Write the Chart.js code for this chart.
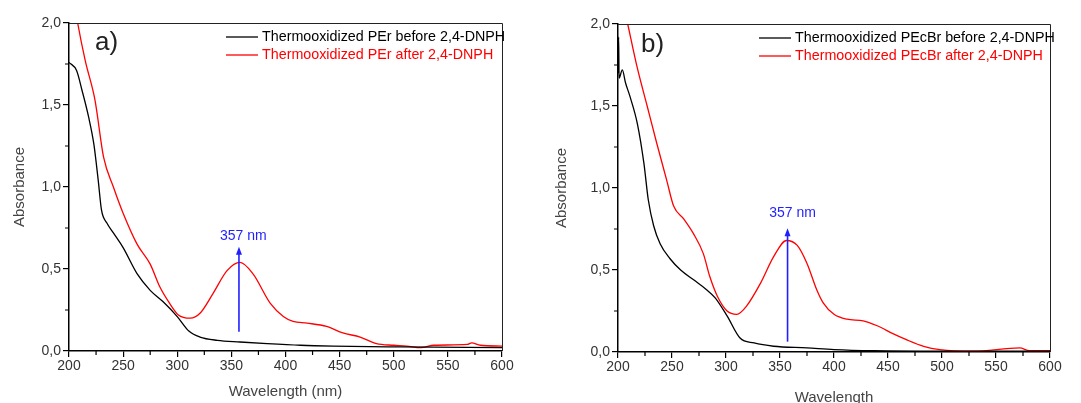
<!DOCTYPE html>
<html lang="en">

<head>
    <meta charset="UTF-8" />
    <script src="https://cdn.jsdelivr.net/npm/chart.js@4.4.1/dist/chart.umd.min.js"></script>
    <title>UV-Vis spectra</title>
    <style>
        body { margin: 0; background: #fff; width: 1081px; height: 403px; overflow: hidden; position: relative; }
        canvas { position: absolute; top: 0; }
        #chartA { left: 0; }
        #chartB { left: 540px; }
    </style>
</head>

<body>
    <canvas id="chartA" width="540" height="403"></canvas>
    <canvas id="chartB" width="541" height="409"></canvas>
    <script>
        // panel a) PEr
        const waveA_before = [200, 207, 212, 218, 223, 227, 230, 235, 241, 250, 263, 275, 287, 300, 311, 321, 337, 358, 383, 414, 444, 506, 600]
        const absA_before = [1.76, 1.71, 1.59, 1.43, 1.26, 1.04, 0.86, 0.78, 0.72, 0.63, 0.47, 0.37, 0.30, 0.21, 0.12, 0.085, 0.065, 0.055, 0.045, 0.035, 0.03, 0.025, 0.02]
        const waveA_after = [206, 208, 215, 224, 232, 241, 250, 263, 275, 284, 293, 301, 312, 321, 333, 346, 358, 370, 386, 398, 407, 420, 438, 453, 469, 484, 500, 512, 525, 537, 568, 572, 580, 600]
        const absA_after = [2.08, 2.0, 1.77, 1.53, 1.18, 1.0, 0.84, 0.65, 0.53, 0.39, 0.29, 0.22, 0.20, 0.23, 0.35, 0.49, 0.54, 0.47, 0.29, 0.21, 0.18, 0.17, 0.15, 0.11, 0.085, 0.045, 0.035, 0.03, 0.02, 0.035, 0.04, 0.05, 0.035, 0.03]

        // panel b) PEcBr
        const waveB_before = [200, 200.6, 201, 204, 207, 211, 218, 224, 228, 233, 239, 248, 258, 270, 282, 290, 301, 313, 326, 344, 375, 400, 437, 498, 600]
        const absB_before = [1.70, 1.92, 1.67, 1.72, 1.64, 1.56, 1.39, 1.15, 0.93, 0.77, 0.66, 0.57, 0.50, 0.44, 0.38, 0.33, 0.22, 0.085, 0.055, 0.035, 0.025, 0.015, 0.008, 0.005, 0.005]
        const waveB_after = [207, 209, 217.6, 227, 236, 245, 251.5, 261, 270, 279, 285, 292, 301, 310, 319, 332, 344, 356, 366, 375, 384, 390, 400, 412, 427, 440, 455, 467, 483, 498, 529, 572, 581, 600]
        const absB_after = [2.06, 2.0, 1.74, 1.50, 1.27, 1.05, 0.89, 0.81, 0.72, 0.60, 0.46, 0.34, 0.25, 0.23, 0.28, 0.42, 0.58, 0.68, 0.65, 0.54, 0.38, 0.30, 0.23, 0.20, 0.19, 0.16, 0.11, 0.075, 0.035, 0.015, 0.005, 0.025, 0.008, 0.008]

        const xTicks = [200, 250, 300, 350, 400, 450, 500, 550, 600]
        const yTicks = [0, 0.5, 1.0, 1.5, 2.0]
        const peakNm = 357

        const font = 'Liberation Sans, Arial, sans-serif'

        function toPoints(xs, ys) {
            return xs.map((x, i) => ({ x: x, y: ys[i] }))
        }

        const panelPlugin = {
            id: 'panelExtras',
            afterDraw(chart) {
                const p = chart.options.plugins.panelExtras
                const ctx = chart.ctx
                const { left, right, top, bottom } = chart.chartArea
                const xs = chart.scales.x
                const ys = chart.scales.y
                ctx.save()

                // frame top/right
                ctx.strokeStyle = '#222'
                ctx.lineWidth = 1
                ctx.beginPath()
                ctx.moveTo(left, top + 0.5)
                ctx.lineTo(right + 0.5, top + 0.5)
                ctx.lineTo(right + 0.5, bottom)
                ctx.stroke()

                // minor ticks
                ctx.strokeStyle = '#000'
                ctx.lineWidth = 1.2
                ctx.beginPath()
                for (let i = 0; i < xTicks.length - 1; i++) {
                    const px = xs.getPixelForValue((xTicks[i] + xTicks[i + 1]) / 2)
                    ctx.moveTo(px, bottom)
                    ctx.lineTo(px, bottom + 4)
                }
                for (let i = 0; i < yTicks.length - 1; i++) {
                    const py = ys.getPixelForValue((yTicks[i] + yTicks[i + 1]) / 2)
                    ctx.moveTo(left, py)
                    ctx.lineTo(left - 4, py)
                }
                ctx.stroke()

                // arrow at the peak
                const ax = xs.getPixelForValue(peakNm)
                const ay1 = ys.getPixelForValue(p.arrowFrom)
                const ay2 = ys.getPixelForValue(p.arrowTo)
                ctx.strokeStyle = '#1f1fff'
                ctx.fillStyle = '#1f1fff'
                ctx.lineWidth = 1.6
                ctx.beginPath()
                ctx.moveTo(ax, ay1)
                ctx.lineTo(ax, ay2 + 6)
                ctx.stroke()
                ctx.beginPath()
                ctx.moveTo(ax, ay2)
                ctx.lineTo(ax - 3, ay2 + 8)
                ctx.lineTo(ax + 3, ay2 + 8)
                ctx.closePath()
                ctx.fill()

                ctx.font = '14px ' + font
                ctx.textAlign = 'center'
                ctx.textBaseline = 'middle'
                ctx.fillText(peakNm + ' nm', xs.getPixelForValue(p.labelX), ys.getPixelForValue(p.labelY))

                // panel letter
                ctx.fillStyle = '#222'
                ctx.font = '26px ' + font
                ctx.textAlign = 'left'
                ctx.fillText(p.letter, p.letterPos[0], p.letterPos[1])

                // legend
                ctx.font = '14.3px ' + font
                chart.data.datasets.forEach((ds, i) => {
                    const y = p.legendPos[1] + i * 18
                    ctx.strokeStyle = ds.borderColor
                    ctx.lineWidth = 1.3
                    ctx.beginPath()
                    ctx.moveTo(p.legendPos[0], y)
                    ctx.lineTo(p.legendPos[0] + 32, y)
                    ctx.stroke()
                    ctx.fillStyle = ds.borderColor
                    ctx.fillText(ds.label, p.legendPos[0] + 36, y)
                })
                ctx.restore()
            }
        }

        function makeChart(id, cfg) {
            const axisGrid = { display: true, drawOnChartArea: false, drawTicks: true, tickLength: 6, color: '#000', lineWidth: 1.2 }
            return new Chart(document.getElementById(id), {
                type: 'line',
                data: {
                    datasets: [
                        { label: cfg.labels[0], data: toPoints(cfg.before[0], cfg.before[1]), borderColor: '#000000' },
                        { label: cfg.labels[1], data: toPoints(cfg.after[0], cfg.after[1]), borderColor: '#ff0000' }
                    ]
                },
                options: {
                    responsive: false,
                    animation: false,
                    layout: { padding: { top: cfg.top, right: cfg.right, left: 0, bottom: 0 } },
                    elements: {
                        point: { radius: 0 },
                        line: { borderWidth: 1.3, cubicInterpolationMode: 'monotone' }
                    },
                    plugins: {
                        legend: { display: false },
                        tooltip: { enabled: false },
                        panelExtras: cfg.extras
                    },
                    scales: {
                        x: {
                            type: 'linear', min: 200, max: 600,
                            afterBuildTicks: (s) => { s.ticks = xTicks.map(v => ({ value: v })) },
                            afterFit: (s) => { s.height = cfg.xHeight },
                            grid: axisGrid,
                            border: { color: '#000', width: 1.5 },
                            ticks: { color: '#333', padding: 1, font: { family: font, size: 14 }, maxRotation: 0 },
                            title: { display: true, text: cfg.xTitle, color: '#444', font: { family: font, size: 15 }, padding: { bottom: 2 } }
                        },
                        y: {
                            min: 0, max: 2,
                            afterBuildTicks: (s) => { s.ticks = yTicks.map(v => ({ value: v })) },
                            afterFit: (s) => { s.width = cfg.yWidth },
                            grid: axisGrid,
                            border: { color: '#000', width: 1.5 },
                            ticks: {
                                color: '#333', padding: 2, font: { family: font, size: 14 },
                                callback: (v) => v.toFixed(1).replace('.', ',')
                            },
                            title: { display: true, text: 'Absorbance', color: '#444', font: { family: font, size: 15 }, padding: { top: cfg.yTitlePad } }
                        }
                    }
                },
                plugins: [panelPlugin]
            })
        }

        makeChart('chartA', {
            labels: ['Thermooxidized PEr before 2,4-DNPH', 'Thermooxidized PEr after 2,4-DNPH'],
            before: [waveA_before, absA_before],
            after: [waveA_after, absA_after],
            xTitle: 'Wavelength (nm)',
            top: 23, right: 38, xHeight: 52, yWidth: 69, yTitlePad: 11,
            extras: { letter: 'a)', letterPos: [95, 43], legendPos: [226, 37], arrowFrom: 0.118, arrowTo: 0.636, labelX: 361, labelY: 0.70 }
        })

        makeChart('chartB', {
            labels: ['Thermooxidized PEcBr before 2,4-DNPH', 'Thermooxidized PEcBr after 2,4-DNPH'],
            before: [waveB_before, absB_before],
            after: [waveB_after, absB_after],
            xTitle: 'Wavelength',
            top: 24, right: 31, xHeight: 57, yWidth: 78, yTitlePad: 13,
            extras: { letter: 'b)', letterPos: [101, 45], legendPos: [219, 38], arrowFrom: 0.063, arrowTo: 0.754, labelX: 361.6, labelY: 0.846 }
        })
    </script>
</body>

</html>
